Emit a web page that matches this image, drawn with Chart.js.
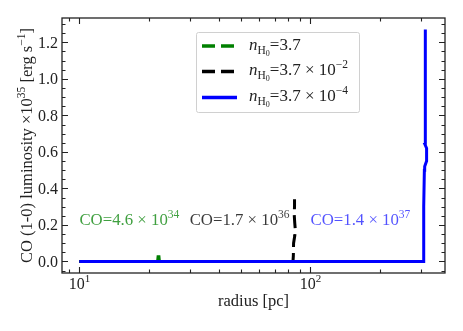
<!DOCTYPE html>
<html>
<head>
<meta charset="utf-8">
<script src="https://cdn.jsdelivr.net/npm/chart.js@4"></script>
<style>
  body { margin: 0; background: #fff; }
  #wrap { width: 463px; height: 331px; }
</style>
</head>
<body>
<div id="wrap"><canvas id="coChart" width="463" height="331"></canvas></div>
<script>
// Données (rayon en pc, luminosité CO en 1e35 erg/s)
const greenRadius = [10, 21.8, 21.9, 22.1, 22.2];
const greenLum    = [0, 0, 0.025, 0.025, 0];
const blackRadius = [10, 84.0, 84.3, 84.5, 85.5, 86.0, 85.5, 85.0, 85.3, 85.3];
const blackLum    = [0, 0, 0.03, 0.10, 0.14, 0.17, 0.21, 0.26, 0.30, 0.34];
const blueRadius  = [10, 307, 308.5, 309.5, 311, 312, 318, 318, 313, 313.5, 314.5];
const blueLum     = [0, 0, 0.02, 0.30, 0.50, 0.52, 0.55, 0.62, 0.64, 1.0, 1.27];

const seriesColors = ["#008000", "#000000", "#0000ff"];
const legendLabels = [
  { mant: "=3.7", exp: null },
  { mant: "=3.7 \u00d7 10", exp: "\u22122" },
  { mant: "=3.7 \u00d7 10", exp: "\u22124" }
];
// annotations : position (x, y) en coordonnées de données
const noteX = [10, 30, 100];
const noteY = [0.2, 0.2, 0.2];
const noteMant = ["CO=4.6 \u00d7 10", "CO=1.7 \u00d7 10", "CO=1.4 \u00d7 10"];
const noteExp = ["34", "36", "37"];
const noteColors = ["rgba(0,128,0,0.75)", "rgba(0,0,0,0.78)", "rgba(0,0,255,0.68)"];

const yTicks = [0, 0.2, 0.4, 0.6, 0.8, 1.0, 1.2];
const xTicks = [10, 100];
const xTickExp = ["1", "2"];

const FONT = '"Liberation Serif", "DejaVu Serif", serif';

function toPoints(xs, ys) {
  return xs.map((x, i) => ({ x: x, y: ys[i] }));
}

// Dessine un texte composé de morceaux (exposants, indices, italique)
function richWidth(ctx, parts) {
  let w = 0;
  parts.forEach(p => {
    ctx.font = (p.it ? "italic " : "") + p.s + "px " + FONT;
    w += ctx.measureText(p.t).width;
  });
  return w;
}
function drawRich(ctx, parts, x, y, align, color) {
  let cx = x;
  const w = richWidth(ctx, parts);
  if (align === "center") cx = x - w / 2;
  if (align === "right") cx = x - w;
  ctx.fillStyle = color;
  ctx.textBaseline = "alphabetic";
  ctx.textAlign = "left";
  parts.forEach(p => {
    ctx.font = (p.it ? "italic " : "") + p.s + "px " + FONT;
    ctx.fillText(p.t, cx, y + (p.dy || 0));
    cx += ctx.measureText(p.t).width;
  });
}

// Cadre, graduations intérieures, libellés et légende
const framePlugin = {
  id: "frame",
  afterDatasetsDraw(chart) {
    const ctx = chart.ctx;
    const a = chart.chartArea;
    const xs = chart.scales.x;
    const ys = chart.scales.y;
    const ink = "#222";
    ctx.save();

    // graduations
    ctx.strokeStyle = ink;
    ctx.lineWidth = 1.1;
    const xMinor = [9, 20, 30, 40, 50, 60, 70, 80, 90, 200, 300];
    function xTick(v, len) {
      const px = Math.round(xs.getPixelForValue(v)) + 0.5;
      ctx.beginPath();
      ctx.moveTo(px, a.bottom); ctx.lineTo(px, a.bottom - len);
      ctx.moveTo(px, a.top); ctx.lineTo(px, a.top + len);
      ctx.stroke();
    }
    function yTick(v, len) {
      const py = Math.round(ys.getPixelForValue(v)) + 0.5;
      ctx.beginPath();
      ctx.moveTo(a.left, py); ctx.lineTo(a.left + len, py);
      ctx.moveTo(a.right, py); ctx.lineTo(a.right - len, py);
      ctx.stroke();
    }
    xTicks.forEach(v => xTick(v, 6));
    xMinor.forEach(v => xTick(v, 3.5));
    for (let v = -0.05; v <= 1.31; v += 0.05) {
      const major = yTicks.some(t => Math.abs(t - v) < 1e-6);
      yTick(v, major ? 6 : 3.5);
    }

    // cadre
    ctx.lineWidth = 1.3;
    ctx.strokeRect(a.left, a.top, a.right - a.left, a.bottom - a.top);

    // libellés des axes
    yTicks.forEach(v => {
      const py = ys.getPixelForValue(v);
      drawRich(ctx, [{ t: v.toFixed(1), s: 16 }], a.left - 4, py + 5.5, "right", ink);
    });
    xTicks.forEach((v, i) => {
      const px = xs.getPixelForValue(v);
      drawRich(ctx, [{ t: "10", s: 16 }, { t: xTickExp[i], s: 11, dy: -7 }], px, 289, "center", ink);
    });
    drawRich(ctx, [{ t: "radius [pc]", s: 16.5 }], (a.left + a.right) / 2, 306, "center", ink);

    ctx.save();
    ctx.translate(32, (a.top + a.bottom) / 2);
    ctx.rotate(-Math.PI / 2);
    drawRich(ctx, [
      { t: "CO (1-0) luminosity \u00d710", s: 16.5 },
      { t: "35", s: 11.5, dy: -7 },
      { t: " [erg s", s: 16.5 },
      { t: "\u22121", s: 11.5, dy: -7 },
      { t: "]", s: 16.5 }
    ], 0, 0, "center", ink);
    ctx.restore();

    // annotations
    noteMant.forEach((m, i) => {
      const px = xs.getPixelForValue(noteX[i]);
      const py = ys.getPixelForValue(noteY[i]);
      drawRich(ctx, [{ t: m, s: 16.8 }, { t: noteExp[i], s: 11.5, dy: -7 }], px, py, "left", noteColors[i]);
    });

    // légende
    const bx = 196.5, by = 32.5, bw = 163, bh = 80;
    ctx.fillStyle = "rgba(255,255,255,0.8)";
    ctx.strokeStyle = "#d0d0d0";
    ctx.lineWidth = 1;
    ctx.beginPath();
    ctx.roundRect(bx, by, bw, bh, 2);
    ctx.fill();
    ctx.stroke();
    const rowY = [46, 71.5, 97.5];
    legendLabels.forEach((lab, i) => {
      ctx.strokeStyle = seriesColors[i];
      ctx.lineWidth = 3.5;
      ctx.lineCap = "butt";
      ctx.setLineDash(i < 2 ? [13, 6] : []);
      ctx.beginPath();
      ctx.moveTo(202, rowY[i]);
      ctx.lineTo(237, rowY[i]);
      ctx.stroke();
      ctx.setLineDash([]);
      const parts = [
        { t: "n", s: 17, it: true },
        { t: "H", s: 11.5, dy: 4 },
        { t: "0", s: 8, dy: 6 },
        { t: lab.mant, s: 17 }
      ];
      if (lab.exp) parts.push({ t: lab.exp, s: 11.5, dy: -7 });
      drawRich(ctx, parts, 249, rowY[i] + 3.5, "left", ink);
    });

    ctx.restore();
  }
};

const ctx = document.getElementById("coChart").getContext("2d");
new Chart(ctx, {
  type: "line",
  data: {
    datasets: [
      {
        label: "nH0=3.7e-4",
        data: toPoints(blueRadius, blueLum),
        borderColor: seriesColors[2],
        borderWidth: 3,
        order: 0
      },
      {
        label: "nH0=3.7e-2",
        data: toPoints(blackRadius, blackLum),
        borderColor: seriesColors[1],
        borderWidth: 3,
        borderDash: [13, 6],
        order: 1
      },
      {
        label: "nH0=3.7",
        data: toPoints(greenRadius, greenLum),
        borderColor: seriesColors[0],
        borderWidth: 3,
        borderDash: [13, 6],
        order: 2
      }
    ]
  },
  options: {
    responsive: false,
    animation: false,
    devicePixelRatio: 1,
    parsing: false,
    elements: {
      point: { radius: 0 },
      line: { tension: 0, fill: false, borderCapStyle: "butt" }
    },
    layout: { padding: { top: 18, right: 18, left: 0, bottom: 0 } },
    plugins: {
      legend: { display: false },
      tooltip: { enabled: false }
    },
    scales: {
      x: {
        type: "logarithmic",
        min: 8.41,
        max: 382,
        grid: { display: false },
        border: { display: false },
        ticks: { display: false },
        afterFit: s => { s.height = 58; }
      },
      y: {
        type: "linear",
        min: -0.0635,
        max: 1.3335,
        grid: { display: false },
        border: { display: false },
        ticks: { display: false },
        afterFit: s => { s.width = 62; }
      }
    }
  },
  plugins: [framePlugin]
});
</script>
</body>
</html>
